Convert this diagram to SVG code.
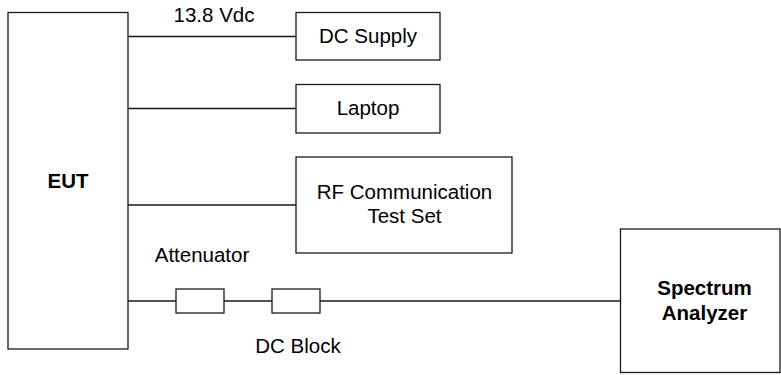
<svg xmlns="http://www.w3.org/2000/svg" width="781" height="375" viewBox="0 0 781 375">
<style>
.box{fill:#fff;stroke:#1a1a1a;stroke-width:1.3}
.ln{stroke:#1a1a1a;stroke-width:1.3;fill:none}
text{font-family:"Liberation Sans",Arial,sans-serif;font-size:20.5px;fill:#000;text-anchor:middle}
.b{font-weight:bold}
</style>
<rect width="781" height="375" fill="#fff"/>
<g id="connectors">
<line class="ln" x1="128" y1="36.5" x2="296" y2="36.5"/>
<line class="ln" x1="128" y1="108.5" x2="296" y2="108.5"/>
<line class="ln" x1="128" y1="205" x2="296" y2="205"/>
<line class="ln" x1="128" y1="301" x2="176" y2="301"/>
<line class="ln" x1="224" y1="301" x2="272" y2="301"/>
<line class="ln" x1="320" y1="301" x2="620.5" y2="301"/>
<text x="214" y="22">13.8 Vdc</text>
</g>
<g id="eut">
<rect class="box" x="8" y="12.5" width="120" height="336.5"/>
<text class="b" x="68" y="188">EUT</text>
</g>
<g id="dc-supply">
<rect class="box" x="296" y="12.5" width="144" height="47.5"/>
<text x="368" y="43">DC Supply</text>
</g>
<g id="laptop">
<rect class="box" x="296" y="84.5" width="144" height="48.5"/>
<text x="368" y="115">Laptop</text>
</g>
<g id="rf-test-set">
<rect class="box" x="296" y="157" width="216" height="96"/>
<text x="404.5" y="199">RF Communication</text>
<text x="404.5" y="223">Test Set</text>
</g>
<g id="attenuator">
<rect class="box" x="176" y="289" width="48" height="24"/>
<text x="202" y="262">Attenuator</text>
</g>
<g id="dc-block">
<rect class="box" x="272" y="289" width="48" height="24"/>
<text x="298" y="353">DC Block</text>
</g>
<g id="spectrum-analyzer">
<rect class="box" x="620.5" y="229" width="159.5" height="143.5"/>
<text class="b" x="704.5" y="295">Spectrum</text>
<text class="b" x="704.5" y="320">Analyzer</text>
</g>
</svg>
